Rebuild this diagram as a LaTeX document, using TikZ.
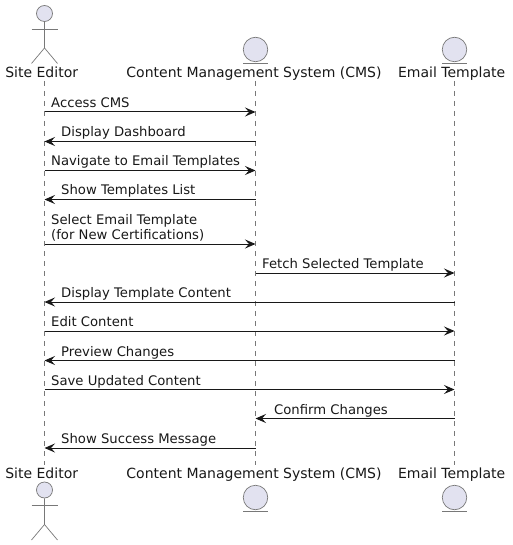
\documentclass[tikz,border=0pt]{standalone}
\usepackage{xcolor}
\usepackage{fontspec}
\setmainfont{DejaVu Sans}
\usetikzlibrary{arrows.meta}
\definecolor{headfill}{RGB}{226,226,240}
\definecolor{softgray}{RGB}{120,120,120}
\definecolor{inkblack}{RGB}{24,24,24}
\tikzset{
  lifeline/.style={softgray,line width=0.6pt,dash pattern=on 5pt off 5pt},
  figure/.style={softgray,line width=0.7pt},
  headshape/.style={circle,draw=softgray,fill=headfill,line width=0.7pt,inner sep=0pt},
  msg/.style={inkblack,line width=1pt,-{Stealth[length=10.5pt,width=9pt,inset=4pt]}},
  msgtext/.style={anchor=base west,inner sep=0pt,text=inkblack,font=\fontsize{13.2}{15.2}\selectfont},
  nametext/.style={anchor=base,inner sep=0pt,text=inkblack,font=\fontsize{14}{16}\selectfont}
}
\begin{document}
\begin{tikzpicture}[x=1pt,y=-1pt]
    \useasboundingbox (0,0) rectangle (512,545);
    % lifelines
    \coordinate (edtop) at (44.5,81);
    \coordinate (edbot) at (44.5,465);
    \coordinate (cmstop) at (255.5,81);
    \coordinate (cmsbot) at (255.5,465);
    \coordinate (mailtop) at (454.5,81);
    \coordinate (mailbot) at (454.5,465);
    \draw[lifeline] (edtop) -- (edbot);
    \draw[lifeline] (cmstop) -- (cmsbot);
    \draw[lifeline] (mailtop) -- (mailbot);
    % names, top and bottom
    \node[nametext] (edname) at (41.7,78) {Site Editor};
    \node[nametext] (cmsname) at (254,78) {Content Management System (CMS)};
    \node[nametext] (mailname) at (451.7,78) {Email Template};
    \node[nametext] (edfoot) at (41.7,478.5) {Site Editor};
    \node[nametext] (cmsfoot) at (254,478.5) {Content Management System (CMS)};
    \node[nametext] (mailfoot) at (451.7,478.5) {Email Template};
    % actor on top
    \node[headshape,minimum size=16pt] (edhead) at (44.5,13.5) {};
    \draw[figure] (edhead.south) -- (44.5,48) -- (31.5,63.5);
    \draw[figure] (44.5,48) -- (57.5,63.5);
    \draw[figure] (31.5,29) -- (57.5,29);
    % actor at the foot
    \node[headshape,minimum size=16pt] (edfhead) at (44.5,490) {};
    \draw[figure] (edfhead.south) -- (44.5,524.5) -- (31.5,540);
    \draw[figure] (44.5,524.5) -- (57.5,540);
    \draw[figure] (31.5,505.5) -- (57.5,505.5);
    % entities
    \node[headshape,minimum size=24.5pt] (cmshead) at (255.5,49.5) {};
    \draw[figure] (243,63) -- (268,63);
    \node[headshape,minimum size=24.5pt] (mailhead) at (454.5,49.5) {};
    \draw[figure] (442,63) -- (467,63);
    \node[headshape,minimum size=24.5pt] (cmsfhead) at (255.5,497.5) {};
    \draw[figure] (243,511) -- (268,511);
    \node[headshape,minimum size=24.5pt] (mailfhead) at (454.5,497.5) {};
    \draw[figure] (442,511) -- (467,511);
    % messages
    \foreach \row/\ypos in {1/112,2/141.5,3/170.5,4/199.5,5/244,6/273,7/302,8/331,9/360.5,10/389.5,11/418.5,12/448} {
      \coordinate (ed\row) at (44.5,\ypos);
      \coordinate (cms\row) at (255.5,\ypos);
      \coordinate (mail\row) at (454.5,\ypos);
    }
    \draw[msg] (ed1) -- (cms1);
    \draw[msg] (cms2) -- (ed2);
    \draw[msg] (ed3) -- (cms3);
    \draw[msg] (cms4) -- (ed4);
    \draw[msg] (ed5) -- (cms5);
    \draw[msg] (cms6) -- (mail6);
    \draw[msg] (mail7) -- (ed7);
    \draw[msg] (ed8) -- (mail8);
    \draw[msg] (mail9) -- (ed9);
    \draw[msg] (ed10) -- (mail10);
    \draw[msg] (mail11) -- (cms11);
    \draw[msg] (cms12) -- (ed12);
    \node[msgtext] (access) at (51,107.5) {Access CMS};
    \node[msgtext] (dashboard) at (61,137) {Display Dashboard};
    \node[msgtext] (navigate) at (51,166) {Navigate to Email Templates};
    \node[msgtext] (list) at (61,195) {Show Templates List};
    \node[msgtext] (select) at (51,224.5) {Select Email Template};
    \node[msgtext] (selectb) at (51,239.5) {(for New Certifications)};
    \node[msgtext] (fetch) at (262,268.5) {Fetch Selected Template};
    \node[msgtext] (content) at (61,297.5) {Display Template Content};
    \node[msgtext] (edit) at (51,326.5) {Edit Content};
    \node[msgtext] (preview) at (61,356) {Preview Changes};
    \node[msgtext] (save) at (51,385) {Save Updated Content};
    \node[msgtext] (confirm) at (274,414) {Confirm Changes};
    \node[msgtext] (success) at (61,443.5) {Show Success Message};
\end{tikzpicture}
\end{document}
